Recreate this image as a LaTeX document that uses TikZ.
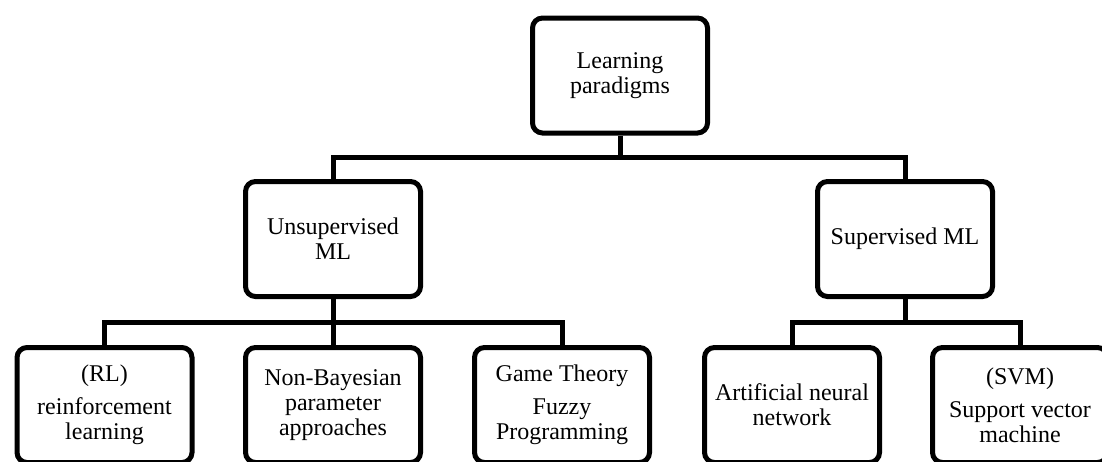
\documentclass[tikz,border=0pt]{standalone}
\usepackage{fontspec}
\setmainfont{Liberation Serif}
\usepackage{tikz}
\tikzset{box/.style={draw, line width=2.5pt, rounded corners=5pt, minimum width=87.5pt, minimum height=57.5pt, inner sep=0pt, align=center, font=\fontsize{12}{12.5}\selectfont}}
\tikzset{link/.style={line width=2.5pt}}

\begin{document}
\begin{tikzpicture}[x=0.5pt, y=-0.5pt]
            \clip (0, 0) rectangle (1102, 461);
            \fill[white] (0, 0) rectangle (1102, 461);
            \node[box] (root) at (620, 75.5) {Learning\\paradigms};
            \node[box] (unsup) at (333, 239) {Unsupervised\\ML};
            \node[box] (sup) at (905, 239) {Supervised ML};
            \node[box] (rl) at (104.5, 405) {(RL)\\[4pt]reinforcement\\learning};
            \node[box] (nonbayes) at (333, 405) {Non-Bayesian\\parameter\\approaches};
            \node[box] (game) at (562, 405) {Game Theory\\[4pt]Fuzzy\\Programming};
            \node[box] (ann) at (792, 405) {Artificial neural\\network};
            \node[box] (svm) at (1020, 405) {(SVM)\\[4pt]Support vector\\machine};
            % first level
            \draw[link] (root.south) -- ++(0, 22);
            \draw[link] (unsup.north) -- ++(0, -22) -| (sup.north);
            % second level
            \draw[link] (unsup.south) -- ++(0, 23);
            \draw[link] (rl.north) -- ++(0, -23) -| (game.north);
            \draw[link] (nonbayes.north) -- ++(0, -23);
            \draw[link] (sup.south) -- ++(0, 23);
            \draw[link] (ann.north) -- ++(0, -23) -| (svm.north);
        \end{tikzpicture}
\end{document}
